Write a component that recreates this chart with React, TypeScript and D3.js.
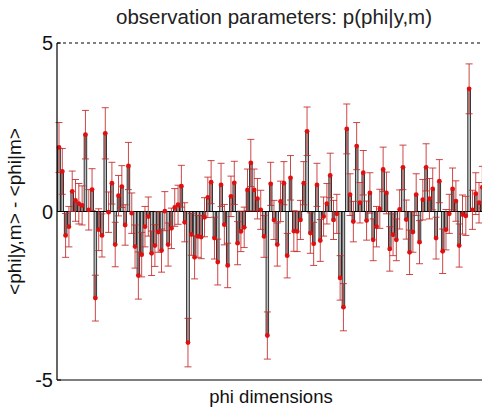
import React from "react";
import * as d3 from "d3";

const W = 482;
const H = 408;

const TITLE = "observation parameters: p(phi|y,m)";
const X_LABEL = "phi dimensions";
const Y_LABEL = "<phi|y,m> - <phi|m>";
const Y_TICKS = [-5, 0, 5];

const values: number[] = [
  1.9, 1.19, -0.71, -0.45, 0.6, 0.33, 0.23, 0.18, 2.28, 0.05,
  0.65, -2.57, -0.54, -0.71, 2.32, -0.02, 0.84, -0.98, 0.47, 0.74,
  -0.4, 1.35, -0.05, -1.04, -1.9, -1.28, -0.45, -0.15, -1.24, -1.01,
  -0.61, -1.16, 0.01, -0.98, -0.5, 0.12, 0.2, 0.75, -0.32, -3.89,
  -0.68, -1.36, -0.74, -0.76, -0.17, 0.42, 0.87, -0.79, -1.5, 0.79,
  -0.39, -1.6, 0.45, 0.85, -0.94, -0.59, -0.47, 0.64, 1.44, 0.64,
  0.38, 0.05, -0.74, -3.68, 0.82, -0.25, -0.98, 0.3, 0.84, -1.31,
  1.0, -0.58, -0.59, -0.25, 0.84, 2.38, -0.64, -0.96, 0.79, -0.86,
  -0.15, 0.23, 1.07, -0.25, -0.07, -1.97, -2.84, 2.45, 0.5, -0.3,
  1.94, 0.26, 1.15, -0.27, 0.55, -0.84, -0.45, 0.08, 1.25, 0.55,
  -1.11, -0.69, -0.84, 0.06, 1.31, -0.24, -1.21, -0.61, 0.5, -0.91,
  0.35, 1.31, 0.38, 0.67, -0.79, 0.9, -1.18, -0.54, -0.07, 0.67,
  0.31, -1.01, -0.09, -0.13, 3.64, 0.05, 0.53, 0.26, 0.72,
];

const errors: number[] = [
  0.74, 0.68, 0.65, 0.6, 0.6, 0.62, 0.6, 0.58, 0.72, 0.6,
  0.62, 0.68, 0.62, 0.64, 0.76, 0.6, 0.62, 0.66, 0.6, 0.62,
  0.6, 0.7, 0.6, 0.64, 0.7, 0.66, 0.6, 0.58, 0.66, 0.62,
  0.6, 0.64, 0.58, 0.64, 0.6, 0.56, 0.58, 0.62, 0.58, 0.72,
  0.62, 0.64, 0.62, 0.64, 0.58, 0.6, 0.64, 0.62, 0.68, 0.64,
  0.6, 0.66, 0.6, 0.64, 0.64, 0.6, 0.6, 0.62, 0.7, 0.62,
  0.6, 0.58, 0.62, 0.7, 0.64, 0.58, 0.64, 0.6, 0.64, 0.66,
  0.66, 0.6, 0.6, 0.58, 0.64, 0.72, 0.6, 0.64, 0.64, 0.62,
  0.58, 0.6, 0.66, 0.58, 0.58, 0.66, 0.7, 0.74, 0.62, 0.6,
  0.7, 0.6, 0.66, 0.58, 0.6, 0.62, 0.6, 0.58, 0.66, 0.62,
  0.66, 0.62, 0.62, 0.58, 0.66, 0.58, 0.66, 0.6, 0.62, 0.64,
  0.6, 0.7, 0.6, 0.62, 0.62, 0.64, 0.66, 0.6, 0.58, 0.62,
  0.6, 0.64, 0.58, 0.58, 0.74, 0.58, 0.62, 0.6, 0.62,
];

const M = { left: 57, right: 485, top: 43, bottom: 380 };

export default function App() {
  const n = values.length;
  const idx = d3.range(1, n + 1);
  const x = d3.scaleLinear().domain([0.4, n + 0.8]).range([M.left, M.right]);
  const y = d3.scaleLinear().domain([-5, 5]).range([M.bottom, M.top]);
  const step = x(2) - x(1);
  const bw = step * 0.8;
  const cap = 3.5;
  const errColor = "rgba(195,40,40,0.85)";

  return (
    <svg
      width={W}
      height={H}
      style={{ position: "fixed", left: 0, top: 0, background: "#fff" }}
      fontFamily="'Liberation Sans', Arial, sans-serif"
    >
      <rect x={0} y={0} width={W} height={H} fill="#fff" />
      {idx.map((i) => {
        const v = values[i - 1];
        const y0 = y(0);
        const yv = y(v);
        return (
          <rect
            key={"b" + i}
            x={x(i) - bw / 2}
            y={Math.min(y0, yv)}
            width={bw}
            height={Math.abs(yv - y0)}
            fill="#bdbdbd"
            stroke="#000"
            strokeWidth={0.75}
          />
        );
      })}
      <line x1={M.left} x2={W} y1={y(0)} y2={y(0)} stroke="#000" strokeWidth={1} />
      {idx.map((i) => {
        const v = values[i - 1];
        const e = errors[i - 1];
        const cx = x(i);
        const yt = y(v + e);
        const yb = y(v - e);
        return (
          <g key={"e" + i} stroke={errColor} strokeWidth={1}>
            <line x1={cx} x2={cx} y1={yt} y2={yb} />
            <line x1={cx - cap} x2={cx + cap} y1={yt} y2={yt} />
            <line x1={cx - cap} x2={cx + cap} y1={yb} y2={yb} />
          </g>
        );
      })}
      {idx.map((i) => (
        <circle key={"m" + i} cx={x(i)} cy={y(values[i - 1])} r={2.4} fill="#e01010" />
      ))}
      <line x1={M.left} x2={W} y1={M.top} y2={M.top} stroke="#000" strokeWidth={1} strokeDasharray="3,3" />
      <line x1={M.left} x2={W} y1={M.bottom} y2={M.bottom} stroke="#000" strokeWidth={1.2} />
      <line x1={M.left} x2={M.left} y1={M.top} y2={M.bottom} stroke="#000" strokeWidth={1.2} />
      {Y_TICKS.map((t) => (
        <g key={"t" + t}>
          <line x1={M.left} x2={M.left + 4} y1={y(t)} y2={y(t)} stroke="#000" />
          <text x={M.left - 4} y={y(t)} dy="0.36em" textAnchor="end" fontSize={20} fill="#111">
            {t}
          </text>
        </g>
      ))}
      <text x={274} y={24} textAnchor="middle" fontSize={20.5} fill="#222">
        {TITLE}
      </text>
      <text x={271} y={403} textAnchor="middle" fontSize={18.5} fill="#111">
        {X_LABEL}
      </text>
      <text
        transform={`translate(21, ${y(0)}) rotate(-90)`}
        textAnchor="middle"
        fontSize={19}
        fill="#111"
      >
        {Y_LABEL}
      </text>
    </svg>
  );
}
